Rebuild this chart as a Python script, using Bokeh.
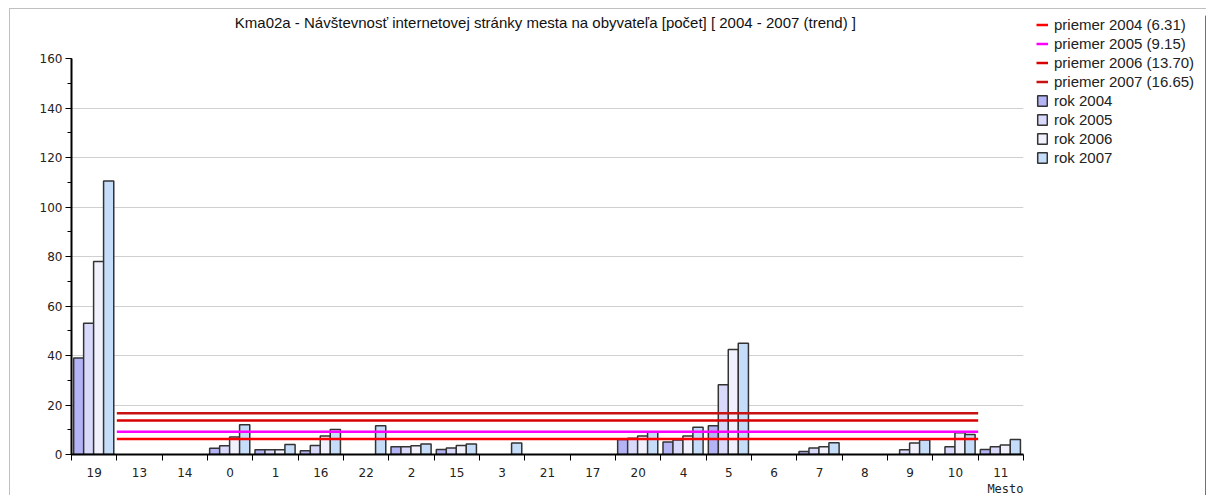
import math
from bokeh.plotting import figure
from bokeh.layouts import row, column
from bokeh.models import (ColumnDataSource, FixedTicker, SingleIntervalTicker, Legend, LegendItem,
                          Title, Range1d)
from bokeh.transform import dodge
from bokeh.embed import file_html
from bokeh.resources import INLINE

nan = float("nan")

cities = ["19", "13", "14", "0", "1", "16", "22", "2", "15", "3", "21", "17",
          "20", "4", "5", "6", "7", "8", "9", "10", "11"]
rok2004 = [39.0, nan, nan, 2.5, 1.9, 1.5, nan, 3.1, 2.0, nan, nan, nan,
           6.1, 5.1, 11.6, nan, 1.2, nan, nan, nan, 2.0]
rok2005 = [53.0, nan, nan, 3.5, 1.9, 3.6, nan, 3.1, 2.6, nan, nan, nan,
           6.6, 5.9, 28.2, nan, 2.6, nan, 1.9, 3.1, 3.1]
rok2006 = [78.0, nan, nan, 7.1, 1.9, 7.5, nan, 3.5, 3.6, nan, nan, nan,
           7.5, 7.5, 42.4, nan, 3.1, nan, 4.6, 8.8, 3.8]
rok2007 = [110.5, nan, nan, 12.0, 4.0, 10.1, 11.6, 4.2, 4.2, 4.6, nan, nan,
           9.0, 11.0, 45.0, nan, 4.7, nan, 5.9, 8.1, 6.1]

series_names = ["rok 2004", "rok 2005", "rok 2006", "rok 2007"]
series_values = [rok2004, rok2005, rok2006, rok2007]
bar_colors = ["#b3b3f5", "#d9d9fb", "#f1f1fd", "#c6ddfa"]
bar_offsets = [-0.34, -0.12, 0.10, 0.32]

avg_names = ["priemer 2004 (6.31)", "priemer 2005 (9.15)", "priemer 2006 (13.70)", "priemer 2007 (16.65)"]
avg_values = [6.31, 9.15, 13.70, 16.65]
avg_colors = ["#ff0000", "#ff00ff", "#d80000", "#c81212"]

title_text = "Kma02a - Návštevnosť internetovej stránky mesta na obyvateľa [počet]  [ 2004 - 2007 (trend) ]"

n = len(cities)
OX, OY = 10, 9          # content origin after margin + border
H = 486
W1 = 1020               # main figure width
W2 = 176                # legend figure width

p = figure(width=W1, height=H, output_backend="svg", toolbar_location=None, title=None,
           x_range=Range1d(0, n), y_range=Range1d(0, 160),
           min_border_left=71 - OX, min_border_right=OX + W1 - 1023,
           min_border_top=58 - OY, min_border_bottom=OY + H - 454)
p.outline_line_color = None
p.background_fill_color = "white"
p.border_fill_color = "white"

# spacer (closest to frame) then the title above it
p.add_layout(Title(text=" ", text_font_size="1px", standoff=25), "above")
p.add_layout(Title(text=title_text, align="center", text_font="Liberation Sans",
                   text_font_size="15px", text_font_style="normal", text_color="#111111",
                   standoff=0), "above")

# bars
bar_renderers = []
for name, vals, col, off in zip(series_names, series_values, bar_colors, bar_offsets):
    xs = [i + 0.5 for i, v in enumerate(vals) if not math.isnan(v)]
    ys = [v for v in vals if not math.isnan(v)]
    src = ColumnDataSource(dict(x=xs, top=ys))
    r = p.vbar(x=dodge("x", off, range=p.x_range), top="top", bottom=0, width=0.225,
               source=src, fill_color=col, line_color="#333333", line_width=1.5)
    bar_renderers.append(r)

# average lines
for name, v, col in zip(avg_names, avg_values, avg_colors):
    src = ColumnDataSource(dict(x0=[1], x1=[n - 1], y=[v]))
    p.segment(x0="x0", y0="y", x1="x1", y1="y", source=src, line_color=col, line_width=2.5)

# axes
p.yaxis.ticker = SingleIntervalTicker(interval=20, num_minor_ticks=2)
p.yaxis.axis_line_width = 2
p.yaxis.axis_line_color = "black"
p.yaxis.major_tick_out = 6
p.yaxis.major_tick_in = 0
p.yaxis.minor_tick_out = 4
p.yaxis.minor_tick_in = 0
p.yaxis.major_tick_line_color = "black"
p.yaxis.minor_tick_line_color = "black"
p.yaxis.major_label_text_font = "DejaVu Sans"
p.yaxis.major_label_text_font_size = "12px"
p.yaxis.major_label_text_color = "#222222"
p.yaxis.major_label_standoff = 3

centers = [i + 0.5 for i in range(n)]
p.xaxis.ticker = FixedTicker(ticks=centers, minor_ticks=list(range(n + 1)))
p.xaxis.major_label_overrides = {c: name for c, name in zip(centers, cities)}
p.xaxis.axis_line_width = 2
p.xaxis.axis_line_color = "black"
p.xaxis.major_tick_out = 0
p.xaxis.major_tick_in = 0
p.xaxis.major_tick_line_color = None
p.xaxis.minor_tick_out = 6
p.xaxis.minor_tick_in = 0
p.xaxis.minor_tick_line_color = "black"
p.xaxis.major_label_text_font = "DejaVu Sans"
p.xaxis.major_label_text_font_size = "12px"
p.xaxis.major_label_text_color = "#222222"
p.xaxis.major_label_standoff = 7

p.add_layout(Title(text="Mesto", align="right", text_font="DejaVu Sans Mono",
                   text_font_size="12px", text_font_style="normal", text_color="#222222",
                   standoff=0, offset=0), "below")

p.xgrid.grid_line_color = None
p.ygrid.grid_line_color = "#d0d0d0"
p.ygrid.grid_line_width = 1

# legend panel (separate figure to the right)
q = figure(width=W2, height=H, output_backend="svg", toolbar_location=None, title=None,
           x_range=Range1d(0, 1), y_range=Range1d(0, 1),
           min_border_left=6, min_border_right=0, min_border_top=6, min_border_bottom=0)
q.axis.visible = False
q.grid.visible = False
q.outline_line_color = None
q.background_fill_color = "white"
q.border_fill_color = "white"

items = []
for name, col in zip(avg_names, avg_colors):
    r = q.segment(x0=[5], y0=[5], x1=[6], y1=[5], line_color=col, line_width=2.5)
    items.append(LegendItem(label=name, renderers=[r]))
for name, col in zip(series_names, bar_colors):
    r = q.vbar(x=[5], top=[5], width=0.1, fill_color=col, line_color="#333333", line_width=1.5)
    items.append(LegendItem(label=name, renderers=[r]))

legend = Legend(items=items, location="top_left", padding=0, margin=0, spacing=0,
                glyph_width=12, glyph_height=13, label_height=19, label_standoff=6,
                label_text_font="Liberation Sans", label_text_font_size="15px",
                label_text_color="#222222", background_fill_alpha=0,
                border_line_color=None)
q.add_layout(legend, "center")

layout = row(p, column(q))
layout.styles = {"border-left": "1px solid #c0c0c0", "border-top": "1px solid #c0c0c0",
                 "margin-left": "9px", "margin-top": "8px"}

open("out.html", "w").write(file_html(layout, INLINE))
